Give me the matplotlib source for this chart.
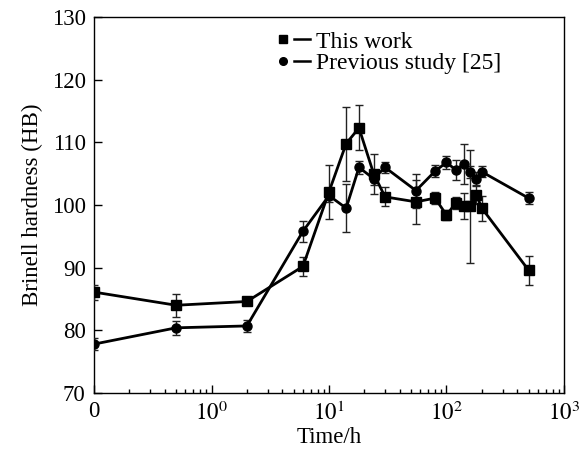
import matplotlib
matplotlib.use("Agg")
import matplotlib.pyplot as plt
from matplotlib.lines import Line2D
from matplotlib.legend_handler import HandlerTuple
from matplotlib.ticker import FixedLocator, LogLocator, NullFormatter

# time in hours (0 h is drawn at 0.1 on the log axis)
time = [0.1, 0.5, 2, 6, 10, 14, 18, 24, 30, 55, 80, 100, 120, 140, 160, 180, 200, 500]

this_work = [86.1, 84.0, 84.6, 90.2, 102.1, 109.8, 112.3, 105.0, 101.3, 100.5,
             101.1, 98.4, 100.3, 99.8, 99.8, 101.6, 99.5, 89.6]
this_err = [1.2, 1.8, 0.5, 1.5, 4.3, 5.9, 3.6, 3.2, 1.5, 3.5,
            1.0, 0.8, 1.0, 2.1, 9.0, 1.5, 2.0, 2.3]

previous = [77.8, 80.4, 80.7, 95.8, 101.5, 99.5, 106.0, 104.2, 106.0, 102.3,
            105.4, 106.8, 105.6, 106.5, 105.3, 104.2, 105.3, 101.1]
prev_err = [1.0, 1.1, 0.9, 1.7, 1.0, 3.8, 1.0, 1.0, 0.9, 2.7,
            1.0, 1.0, 1.6, 3.2, 1.0, 1.0, 0.9, 0.9]

xticks = [0.1, 1, 10, 100, 1000]
xticklabels = ['0', r'$10^0$', r'$10^1$', r'$10^2$', r'$10^3$']
yticks = [70, 80, 90, 100, 110, 120, 130]

plt.rcParams['font.family'] = ['Liberation Serif', 'DejaVu Serif']
plt.rcParams['mathtext.fontset'] = 'stix'

fig = plt.figure(figsize=(5.79, 4.55), dpi=100)
ax = fig.add_axes([0.1624, 0.1363, 0.8116, 0.8263])

ax.errorbar(time, this_work, yerr=this_err, fmt='-s', color='black', lw=2.0,
            ms=7, ecolor='#222222', elinewidth=1.0, capsize=3.2, capthick=1.0, zorder=3)
ax.errorbar(time, previous, yerr=prev_err, fmt='-o', color='black', lw=2.0,
            ms=6.5, ecolor='#222222', elinewidth=1.0, capsize=3.2, capthick=1.0, zorder=3)

ax.set_xscale('log')
ax.set_xlim(0.1, 1000)
ax.set_ylim(70, 130)
ax.xaxis.set_major_locator(FixedLocator(xticks))
ax.set_xticklabels(xticklabels)
ax.xaxis.set_minor_locator(LogLocator(base=10, subs=range(2, 10)))
ax.xaxis.set_minor_formatter(NullFormatter())
ax.set_yticks(yticks)

ax.tick_params(which='both', direction='in', top=False, right=False, labelsize=16.5, pad=6)
ax.tick_params(which='major', length=6, width=1)
ax.tick_params(which='minor', length=3, width=1)
for s in ax.spines.values():
    s.set_linewidth(1.0)

ax.set_xlabel('Time/h', fontsize=16.5, labelpad=2)
ax.set_ylabel('Brinell hardness (HB)', fontsize=16.5, labelpad=6)

# legend: marker then short dash, as in the figure
h1 = (Line2D([], [], marker='s', color='black', ls='none', ms=5.5),
      Line2D([], [], color='black', lw=1.8))
h2 = (Line2D([], [], marker='o', color='black', ls='none', ms=5.5),
      Line2D([], [], color='black', lw=1.8))
ax.legend([h1, h2], ['This work', 'Previous study [25]'],
          handler_map={tuple: HandlerTuple(ndivide=None, pad=0.1)},
          loc='upper left', bbox_to_anchor=(0.355, 1.0), frameon=False,
          fontsize=17, handlelength=1.5, handletextpad=0.25, labelspacing=0.0,
          borderaxespad=0.2)

fig.savefig('out.png', dpi=100)
